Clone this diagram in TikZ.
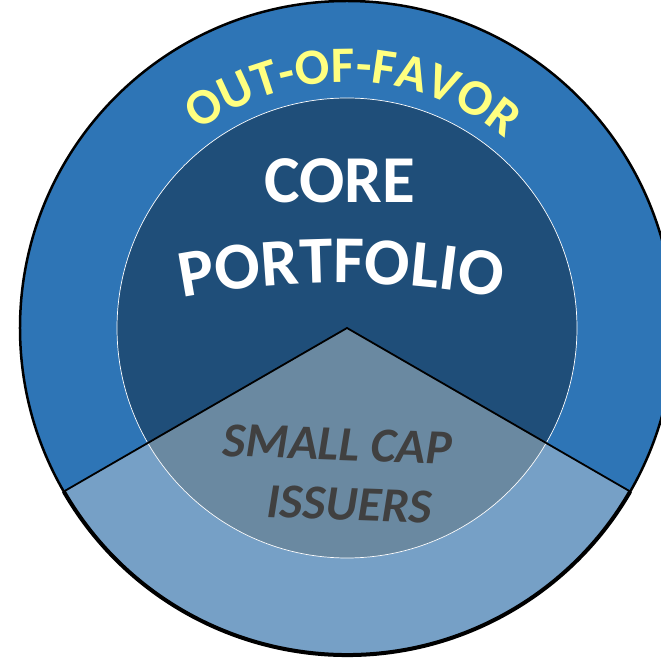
\documentclass[tikz,border=0pt]{standalone}
\usepackage{fontspec}
\setmainfont{Carlito}
\usepackage{xcolor}
\usetikzlibrary{calc,decorations.text}

\definecolor{ringblue}{RGB}{46,117,182}
\definecolor{coreblue}{RGB}{31,78,121}
\definecolor{capring}{RGB}{118,160,198}
\definecolor{capcore}{RGB}{106,137,161}
\definecolor{favoryellow}{RGB}{255,255,128}
\definecolor{capgray}{RGB}{64,64,64}

\tikzset{
  coretext/.style={inner sep=0pt, anchor=base, text=white, font=\fontsize{67}{70}\selectfont\bfseries},
  captext/.style={inner sep=0pt, anchor=base, text=capgray, rotate=-2, font=\fontsize{49}{52}\selectfont\bfseries\itshape}
}

\begin{document}
\begin{tikzpicture}[x=1pt,y=1pt]
    \useasboundingbox (-347,-332) rectangle (314,328);

    % Outer ring
    \fill[ringblue] (0,0) circle[radius=327];
    \fill[capring] (0,0) -- (210:327) arc[start angle=210, end angle=330, radius=327] -- cycle;

    % Core circle
    \fill[coreblue] (0,0) circle[radius=230];
    \fill[capcore] (0,0) -- (210:230) arc[start angle=210, end angle=330, radius=230] -- cycle;
    \draw[white, line width=0.7pt] (0,0) circle[radius=230];

    % Borders
    \draw[line width=1.8pt] (210:327) -- (0,0) -- (330:327);
    \draw[line width=2.5pt] (0,0) circle[radius=327];
    \draw[line width=4pt] (210:327) arc[start angle=210, end angle=330, radius=327];

    % Labels
    \path[decorate, decoration={text along path, text align=center, text color=favoryellow,
        text={|\fontsize{51}{54}\selectfont\bfseries|OUT-OF-FAVOR}}]
        (148.5:246) arc[start angle=148.5, end angle=28.5, radius=246];
    \node[coretext] (core) at (-7,125) {CORE};
    \path[decorate, decoration={text along path, text align=center, text color=white,
        text={|\fontsize{67}{70}\selectfont\bfseries|PORTFOLIO}}]
        ($(-6,-795)+(106:840)$) arc[start angle=106, end angle=74, radius=840];
    \node[captext] (smallcap) at (-10,-132) {SMALL CAP};
    \node[captext] (issuers) at (2,-192) {ISSUERS};
\end{tikzpicture}
\end{document}
